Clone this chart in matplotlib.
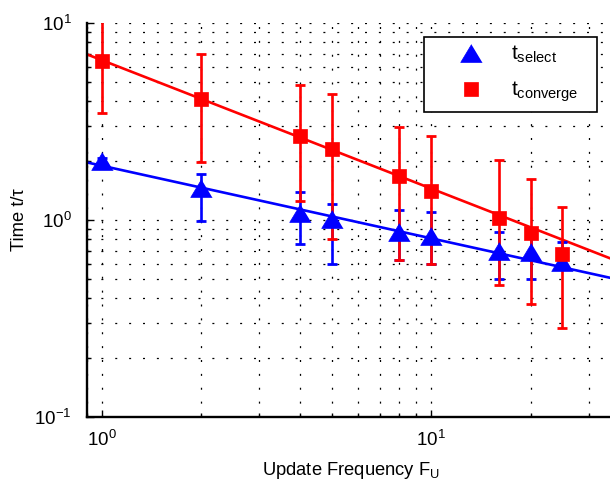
import matplotlib
matplotlib.use("Agg")
import matplotlib.pyplot as plt
from matplotlib.ticker import LogLocator, NullFormatter, FixedLocator

plt.rcParams['font.family'] = ['Liberation Sans', 'DejaVu Sans']
plt.rcParams['mathtext.fontset'] = 'custom'
plt.rcParams['mathtext.rm'] = 'Liberation Sans'
plt.rcParams['mathtext.it'] = 'Liberation Sans:italic'
plt.rcParams['mathtext.bf'] = 'Liberation Sans:bold'

# ---- data ----
freq = [1, 2, 4, 5, 8, 10, 16, 20, 25]

t_select = [2.00, 1.45, 1.08, 1.01, 0.87, 0.83, 0.70, 0.69, 0.61]
t_select_lo = [1.93, 0.99, 0.755, 0.60, 0.63, 0.60, 0.50, 0.50, 0.57]
t_select_hi = [2.06, 1.72, 1.38, 1.20, 1.12, 1.10, 0.872, 0.84, 0.776]

t_converge = [6.41, 4.11, 2.68, 2.28, 1.68, 1.41, 1.02, 0.856, 0.672]
t_converge_lo = [3.48, 1.98, 1.25, 0.80, 0.626, 0.60, 0.468, 0.375, 0.282]
t_converge_hi = [12.0, 6.96, 4.84, 4.38, 2.98, 2.68, 2.02, 1.61, 1.16]

fit_x = [0.9, 36]
fit_select = [1.96, 0.503]
fit_converge = [6.93, 0.626]

x_limits = [0.9, 36]
y_limits = [0.1, 10]

BLUE = '#0000ff'
RED = '#ff0000'

fig = plt.figure(figsize=(6.1, 4.86), dpi=100)
ax = fig.add_axes([87 / 610, 69 / 486, 527.6 / 610, 394 / 486])
ax.set_xscale('log')
ax.set_yscale('log')

# fitted power laws
ax.plot(fit_x, fit_select, color=BLUE, lw=1.9, zorder=3)
ax.plot(fit_x, fit_converge, color=RED, lw=1.9, zorder=3)

tri = [(0, 0.83), (-1, -0.83), (1, -0.83)]

sel_err = [[v - lo for v, lo in zip(t_select, t_select_lo)],
           [hi - v for v, hi in zip(t_select, t_select_hi)]]
con_err = [[v - lo for v, lo in zip(t_converge, t_converge_lo)],
           [hi - v for v, hi in zip(t_converge, t_converge_hi)]]

ax.errorbar(freq, t_select, yerr=sel_err, fmt='none', ecolor=BLUE,
            elinewidth=1.9, capsize=3.6, capthick=2.0, zorder=4)
ax.errorbar(freq, t_converge, yerr=con_err, fmt='none', ecolor=RED,
            elinewidth=1.9, capsize=3.6, capthick=2.0, zorder=5)
ax.plot(freq, t_select, linestyle='none', marker=tri, markersize=15.5,
        color=BLUE, markeredgewidth=0.5, zorder=6,
        label=r'$\mathregular{t_{select}}$')
ax.plot(freq, t_converge, linestyle='none', marker='s', markersize=10.5,
        color=RED, markeredgewidth=0.5, zorder=7,
        label=r'$\mathregular{t_{converge}}$')

ax.set_xlim(x_limits)
ax.set_ylim(y_limits)

# grid (major + minor, dotted)
ax.xaxis.set_major_locator(FixedLocator([1, 10]))
ax.xaxis.set_minor_locator(LogLocator(base=10, subs=range(2, 10)))
ax.yaxis.set_major_locator(FixedLocator([0.1, 1, 10]))
ax.yaxis.set_minor_locator(LogLocator(base=10, subs=range(2, 10)))
ax.xaxis.set_minor_formatter(NullFormatter())
ax.yaxis.set_minor_formatter(NullFormatter())
ax.set_xticklabels([r'$\mathregular{10^{0}}$', r'$\mathregular{10^{1}}$'])
ax.set_yticklabels([r'$\mathregular{10^{-1}}$', r'$\mathregular{10^{0}}$',
                    r'$\mathregular{10^{1}}$'])

grid_style = dict(color='black', linestyle=(0, (1.6, 9.5)), linewidth=0.9)
ax.grid(True, which='both', **grid_style)
ax.set_axisbelow(True)

for side in ['top', 'right']:
    ax.spines[side].set_visible(False)
for side in ['left', 'bottom']:
    ax.spines[side].set_linewidth(1.7)
    ax.spines[side].set_zorder(8)

ax.tick_params(which='both', direction='in', top=False, right=False,
               width=1.0, labelsize=13.5)
ax.tick_params(which='major', length=5)
ax.tick_params(which='minor', length=3)
ax.tick_params(axis='x', which='major', pad=9)
ax.tick_params(axis='y', which='major', pad=11)

ax.set_xlabel(r'Update Frequency $\mathregular{F_U}$', fontsize=13.2)
ax.set_ylabel('Time t/τ', fontsize=13.2)
ax.xaxis.set_label_coords(0.5, -0.108)
ax.yaxis.set_label_coords(-0.112, 0.5)

leg_x0 = (424 - 87) / 527.6
leg_w = 173 / 527.6
leg_top = 1 - (37 - 23) / 394
leg = ax.legend(loc='upper left', bbox_to_anchor=(leg_x0, 0.5, leg_w, leg_top - 0.5),
                mode='expand', borderaxespad=0, fontsize=15, frameon=True,
                fancybox=False, framealpha=1, edgecolor='black',
                handlelength=3.85, handletextpad=0.0, borderpad=0.34,
                labelspacing=0.7, numpoints=1)
leg.get_frame().set_linewidth(1.2)
leg.set_zorder(10)

fig.savefig('out.png', dpi=100)
